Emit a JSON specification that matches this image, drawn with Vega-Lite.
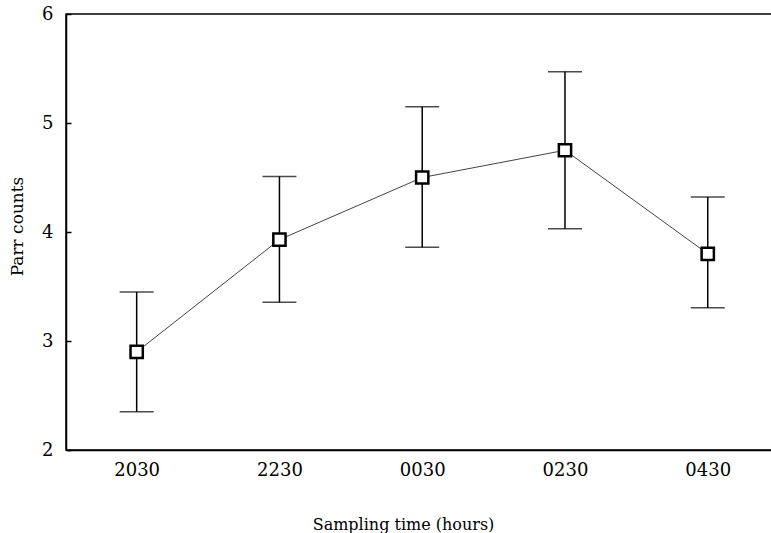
{
  "$schema": "https://vega.github.io/schema/vega-lite/v6.json",
  "autosize": "none",
  "padding": {"left": 66, "top": 14, "right": 0, "bottom": 83},
  "width": 706,
  "height": 436,
  "background": "white",
  "config": {
    "view": {"stroke": "black", "strokeWidth": 1.5},
    "font": "DejaVu Serif",
    "axis": {"labelFont": "DejaVu Serif", "titleFont": "DejaVu Serif", "labelColor": "black", "titleColor": "black", "titleFontWeight": "normal", "grid": false, "domainColor": "black", "tickColor": "black", "domainWidth": 1.5}
  },
  "data": {
    "values": [
      {"time": "2030", "idx": 0, "mean": 2.90, "lo": 2.35, "hi": 3.45},
      {"time": "2230", "idx": 1, "mean": 3.93, "lo": 3.355, "hi": 4.51},
      {"time": "0030", "idx": 2, "mean": 4.50, "lo": 3.86, "hi": 5.15},
      {"time": "0230", "idx": 3, "mean": 4.75, "lo": 4.03, "hi": 5.47},
      {"time": "0430", "idx": 4, "mean": 3.80, "lo": 3.305, "hi": 4.32}
    ]
  },
  "encoding": {
    "x": {
      "field": "idx", "type": "quantitative",
      "scale": {"domain": [-0.495, 4.45], "nice": false, "zero": false},
      "axis": {
        "title": "Sampling time (hours)", "values": [0, 1, 2, 3, 4],
        "labelExpr": "['2030','2230','0030','0230','0430'][datum.value]",
        "ticks": false, "labelPadding": 11, "labelFontSize": 18,
        "titleFontSize": 16, "titlePadding": 37, "titleX": 337
      }
    }
  },
  "layer": [
    {
      "mark": {"type": "line", "color": "#444", "strokeWidth": 1},
      "encoding": {
        "y": {
          "field": "mean", "type": "quantitative",
          "scale": {"domain": [2, 6], "nice": false, "zero": false},
          "axis": {
            "title": "Parr counts", "values": [2, 3, 4, 5, 6], "format": "d", "tickSize": -5, "tickWidth": 1.5,
            "labelPadding": 18, "labelFontSize": 18, "titleFontSize": 17,
            "titleX": -49, "titleY": 212, "titleBaseline": "middle", "titleAngle": -90
          }
        }
      }
    },
    {
      "mark": {"type": "rule", "color": "black", "strokeWidth": 1.5},
      "encoding": {
        "y": {"field": "lo", "type": "quantitative"},
        "y2": {"field": "hi"}
      }
    },
    {
      "mark": {"type": "tick", "orient": "horizontal", "color": "black", "size": 34, "thickness": 1.5},
      "encoding": {"y": {"field": "lo", "type": "quantitative"}}
    },
    {
      "mark": {"type": "tick", "orient": "horizontal", "color": "black", "size": 34, "thickness": 1.5},
      "encoding": {"y": {"field": "hi", "type": "quantitative"}}
    },
    {
      "mark": {"type": "point", "shape": "square", "filled": false, "fill": "white", "fillOpacity": 1, "stroke": "black", "strokeWidth": 2.5, "size": 150, "opacity": 1},
      "encoding": {"y": {"field": "mean", "type": "quantitative"}}
    }
  ]
}
